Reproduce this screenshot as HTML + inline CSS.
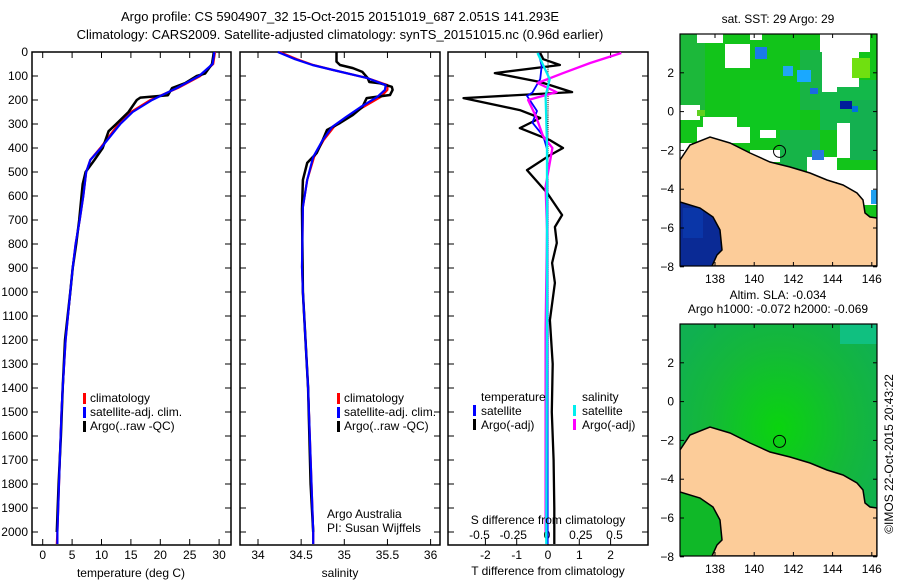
<!DOCTYPE html>
<html><head><meta charset="utf-8"><style>
body{margin:0;background:#fff;}
svg{display:block;font-family:"Liberation Sans",sans-serif;font-size:12px;}
</style></head><body>
<svg id="c" width="900" height="580" xmlns="http://www.w3.org/2000/svg">
<text x="340" y="21" text-anchor="middle" font-size="13">Argo profile: CS 5904907_32 15-Oct-2015 20151019_687 2.051S 141.293E</text>
<text x="340" y="39" text-anchor="middle" font-size="13">Climatology: CARS2009. Satellite-adjusted climatology: synTS_20151015.nc (0.96d earlier)</text>
<g id="g"></g>
</svg>
<script>
// ---- data ----
const depthTicks=[0,100,200,300,400,500,600,700,800,900,1000,1100,1200,1300,1400,1500,1600,1700,1800,1900,2000];
const tempTicks=[0,5,10,15,20,25,30];
const salTicks=[34,34.5,35,35.5,36];
const tdiffTicks=[-2,-1,0,1,2];
const sdiffTicks=[-0.5,-0.25,0,0.25,0.5];
const climDepth=[0,50,100,150,200,250,300,400,450,500,600,700,800,900,1000,1200,1400,1500,1700,2000,2050];
const climTemp=[29.3,29.0,26.8,23.0,18.3,15.0,12.9,9.8,8.1,7.4,6.9,6.3,5.6,5.1,4.7,3.9,3.4,3.2,2.9,2.5,2.4];
const satTemp=[29.2,28.9,26.6,22.8,18.6,15.3,13.2,9.9,8.1,7.4,6.9,6.3,5.6,5.1,4.7,3.9,3.4,3.2,2.9,2.5,2.5];
const salDepth=[0,30,54,75,108,138,158,188,229,271,312,367,437,533,646,896,1000,1400,2000,2050];
const climSal=[34.25,34.45,34.64,34.87,35.26,35.50,35.50,35.42,35.22,35.04,34.88,34.76,34.65,34.57,34.52,34.51,34.52,34.58,34.64,34.64];
const satSal=[34.23,34.43,34.63,34.87,35.26,35.48,35.47,35.38,35.19,35.02,34.86,34.75,34.64,34.57,34.52,34.51,34.52,34.58,34.64,34.64];
const argoDepth=[2,50,90,100,130,150,180,190,200,250,300,330,400,450,500,550,600,700,800,900,1000,1200,1400,1600,1800,2000];
const argoTemp=[29.1,28.8,27.6,26.2,24.2,22.0,21.3,16.6,16.0,14.6,12.5,11.2,10.2,8.8,7.3,6.8,6.6,6.2,5.7,5.1,4.7,3.8,3.4,3.1,2.7,2.4];
const argoSalDepth=[2,40,54,67,83,108,125,130,145,158,179,192,229,262,296,325,367,421,462,533,654,1000,1400,1800,2000];
const argoSal=[34.91,34.91,34.95,35.10,35.21,35.27,35.29,35.41,35.55,35.56,35.53,35.26,35.21,35.10,34.95,34.80,34.75,34.68,34.57,34.52,34.51,34.52,34.58,34.61,34.64];
const tdDepth=[4,30,54,88,125,167,192,242,275,317,367,400,430,492,587,679,729,796,879,962,1117,1300,1500,1700,1900,2050];
const argoTdiff=[-0.25,-0.15,0.38,-1.7,-0.25,0.77,-2.7,-0.9,-0.25,-0.9,0.06,0.48,0.06,-0.67,-0.03,0.45,0.22,0.28,0.13,0.22,0.06,0.15,0.12,0.18,0.2,0.2];
const sdDepth=[4,58,113,169,183,246,294,350,406,600,2050];
const satTdiff=[-0.3,-0.2,-0.25,-0.5,-0.67,-0.35,-0.5,-0.15,-0.03,-0.02,-0.01];
const argoSdDepth=[4,46,88,129,167,200,271,350,400,560,742,1160,1500,2000];
const argoSdiff=[0.55,0.32,0.12,-0.07,0.07,-0.14,-0.08,-0.03,0.04,-0.01,0.0,-0.01,-0.01,-0.01];
const satSdDepth=[4,113,183,390,1000,2050];
const satSdiff=[-0.07,0.02,-0.01,0.0,0.0,-0.005];

// ---- helpers ----
const NS="http://www.w3.org/2000/svg";const G=document.getElementById('g');
function el(t,a,p){const e=document.createElementNS(NS,t);for(const k in a)e.setAttribute(k,a[k]);(p||G).appendChild(e);return e;}
const Y0=52,Y1=545,DMAX=(Y1-Y0)/0.24;
const yD=d=>Y0+d*0.24;
const xT=v=>42.7+v*5.88, xS=v=>258+(v-34)*86.3, xTd=v=>548+v*31.3, xSd=v=>547+v*135;
function line(xs,ds,f,col,w,name){const pts=xs.map((v,i)=>f(v).toFixed(1)+','+yD(ds[i]).toFixed(1)).join(' ');
 const p=el('polyline',{points:pts,fill:'none',stroke:col,'stroke-width':w,'stroke-linejoin':'round'});
 
 }
function panel(x0,x1,name){const r=el('rect',{x:x0,y:Y0,width:x1-x0,height:Y1-Y0,fill:'none',stroke:'#000','stroke-width':1.5});
 
 
 depthTicks.forEach(d=>{el('line',{x1:x0,x2:x0+6,y1:yD(d),y2:yD(d),stroke:'#000'});el('line',{x1:x1,x2:x1-6,y1:yD(d),y2:yD(d),stroke:'#000'});});}
function xticks(ticks,f,labels,ly,name){ticks.forEach((v,i)=>{const x=f(v);el('line',{x1:x,x2:x,y1:Y0,y2:Y0+6,stroke:'#000'});el('line',{x1:x,x2:x,y1:Y1,y2:Y1-6,stroke:'#000'});
 const t=el('text',{x:x,y:ly,'text-anchor':'middle'});t.textContent=labels[i];
 
 });}
function txt(x,y,s,name,anchor){const t=el('text',{x:x,y:y,'text-anchor':anchor||'start'});t.textContent=s;
 
 return t;}
function legbar(x,y,col){el('rect',{x:x,y:y-10,width:3,height:11,fill:col});}

// depth labels
depthTicks.forEach(d=>{const t=txt(28,yD(d)+4,String(d),'depth-tick-label','end');});

// panel 1 temperature
panel(32,231,'temperature-panel');
xticks(tempTicks,xT,tempTicks.map(String),559,'temperature-tick-label');
line(climTemp,climDepth,xT,'#f00',2.2,'temperature-climatology-line');
line(argoTemp,argoDepth,xT,'#000',2.5,'temperature-argo-line');
line(satTemp,climDepth,xT,'#00f',2.2,'temperature-satellite-line');
txt(131,577,'temperature (deg C)','temperature-axis-title','middle');
legbar(83,403,'#f00');txt(90,402,'climatology','legend-climatology');
legbar(83,417,'#00f');txt(90,416,'satellite-adj. clim.','legend-satellite-adj');
legbar(83,431,'#000');txt(90,430,'Argo(..raw -QC)','legend-argo');

// panel 2 salinity
panel(240,440,'salinity-panel');
xticks(salTicks,xS,['34','34.5','35','35.5','36'],559,'salinity-tick-label');
line(climSal,salDepth,xS,'#f00',2.2,'salinity-climatology-line');
line(argoSal,argoSalDepth,xS,'#000',2.5,'salinity-argo-line');
line(satSal,salDepth,xS,'#00f',2.2,'salinity-satellite-line');
txt(340,577,'salinity','salinity-axis-title','middle');
legbar(337,403,'#f00');txt(344,402,'climatology','legend-climatology');
legbar(337,417,'#00f');txt(344,416,'satellite-adj. clim.','legend-satellite-adj');
legbar(337,431,'#000');txt(344,430,'Argo(..raw -QC)','legend-argo');
txt(327,518,'Argo Australia','credit-argo-australia');
txt(327,532,'PI: Susan Wijffels','credit-pi');

// panel 3 differences
panel(448,648,'difference-panel');
xticks(tdiffTicks,xTd,tdiffTicks.map(String),559,'t-diff-tick-label');
sdiffTicks.forEach(v=>txt(xSd(v),539,String(v),'s-diff-tick-label','middle'));
for(let d=0;d<DMAX;d+=8)el('line',{x1:548,x2:548,y1:yD(d),y2:yD(d)+1,stroke:'#000'});
line(argoTdiff,tdDepth,xTd,'#000',2.3,'t-diff-argo-line');
line(satTdiff,sdDepth,xTd,'#00f',1.8,'t-diff-satellite-line');
line(argoSdiff,argoSdDepth,xSd,'#f0f',2.3,'s-diff-argo-line');
line(satSdiff,satSdDepth,xSd,'#0ee',2.3,'s-diff-satellite-line');
txt(481,401,'temperature','legend-temperature-header');
txt(582,401,'salinity','legend-salinity-header');
legbar(473,415,'#00f');txt(481,415,'satellite','legend-t-satellite');
legbar(473,429,'#000');txt(481,429,'Argo(-adj)','legend-t-argo');
legbar(573,415,'#0ee');txt(582,415,'satellite','legend-s-satellite');
legbar(573,429,'#f0f');txt(582,429,'Argo(-adj)','legend-s-argo');
txt(548,524,'S difference from climatology','s-diff-axis-title','middle');
txt(548,575,'T difference from climatology','t-diff-axis-title','middle');

// ---- maps ----
const lonTicks=[138,140,142,144,146];
const latTicks=[2,0,-2,-4,-6,-8];
const MX0=680,MX1=877,MW=197,MH=232;
const mx=l=>715+(l-138)*19.6;
function landPts(oy){const base=[[680,160],[690,145],[710,137],[730,143],[750,153],[770,162],[790,167],[810,173],[827,180],[843,185],[857,193],[863,200],[865,213],[870,217],[877,218],[877,266],[712,266],[717,255],[722,250],[720,230],[713,217],[700,208],[680,202]];
 return base.map(p=>p[0]+','+(p[1]+oy)).join(' ');}
function map(top,oy,title1,title2,kind){
 const cl='clip'+kind;const cp=el('clipPath',{id:cl});el('rect',{x:MX0,y:top,width:MW,height:MH},cp);
 const g=el('g',{'clip-path':'url(#'+cl+')'});
 if(kind==='sst'){
  el('rect',{x:MX0,y:top,width:MW,height:MH,fill:'#12c41a'},g);
  [[680,34,25,80,'#1cb83a'],[740,80,60,60,'#0ec820'],[800,50,40,60,'#18b444'],[820,80,60,50,'#13b84a'],[850,100,27,60,'#14b050'],[780,130,40,40,'#16b448']].forEach(r=>el('rect',{x:r[0],y:r[1],width:r[2],height:r[3],fill:r[4]},g));
  [[697,34,26,9],[725,44,25,24],[750,34,12,6],[820,34,50,18],[822,52,15,40],[837,52,22,35],[680,105,20,15],[703,117,34,10],[697,127,53,16],[760,130,16,8],[837,123,13,35],[807,157,30,25],[837,170,40,35],[750,150,30,12],[680,143,12,20]].forEach(r=>el('rect',{x:r[0],y:r[1],width:r[2],height:r[3],fill:'#fff'},g));
  [[755,47,12,12,'#1a7ae8'],[783,66,10,10,'#22a6f0'],[797,70,14,12,'#1aa8ff'],[810,88,8,6,'#1a6ae0'],[840,101,12,8,'#001e9a'],[852,106,6,6,'#0070e0'],[812,150,12,10,'#2a78e0'],[871,190,6,14,'#20a0f0'],[852,58,18,20,'#70e010'],[697,110,8,6,'#60d020']].forEach(r=>el('rect',{x:r[0],y:r[1],width:r[2],height:r[3],fill:r[4]},g));
  el('rect',{x:680,y:200,width:45,height:66,fill:'#0a2a95'},g);
  el('rect',{x:683,y:208,width:20,height:30,fill:'#0a36a8'},g);
 } else {
  const gr=el('radialGradient',{id:'slag',cx:'0.5',cy:'0.45',r:'0.6'});
  el('stop',{offset:'0','stop-color':'#0ad40e'},gr);el('stop',{offset:'0.6','stop-color':'#14b83a'},gr);el('stop',{offset:'1','stop-color':'#10b050'},gr);
  el('rect',{x:MX0,y:top,width:MW,height:MH,fill:'url(#slag)'},g);
  el('rect',{x:840,y:top,width:37,height:20,fill:'#10c080'},g);
  el('rect',{x:680,y:490,width:45,height:66,fill:'#10b828'},g);
 }
 const lp=el('polygon',{points:landPts(oy),fill:'#fccc99',stroke:'#000','stroke-width':1.5},g);
 
 
 const c=el('circle',{cx:mx(141.293),cy:top+(4-(-2.051))*19.4,r:6,fill:'none',stroke:'#000'},g);
 
 
 el('rect',{x:MX0,y:top,width:MW,height:MH,fill:'none',stroke:'#000','stroke-width':1.2});
 lonTicks.forEach(l=>{const x=mx(l);el('line',{x1:x,x2:x,y1:top,y2:top+4,stroke:'#000'});el('line',{x1:x,x2:x,y1:top+MH,y2:top+MH-4,stroke:'#000'});txt(x,top+MH+17,String(l),'longitude-tick-label','middle');});
 latTicks.forEach(l=>{const y=top+(4-l)*19.4;el('line',{x1:MX0,x2:MX0+4,y1:y,y2:y,stroke:'#000'});el('line',{x1:MX1,x2:MX1-4,y1:y,y2:y,stroke:'#000'});txt(674,y+4,String(l).replace('-','\u2212'),'latitude-tick-label','end');});
 txt(778,top-11-(title2?14:0),title1,'map-title-'+kind,'middle');
 if(title2)txt(778,top-11,title2,'map-subtitle-'+kind,'middle');
}
map(34,0,'sat. SST: 29 Argo: 29',null,'sst');
map(324,290,'Altim. SLA: -0.034','Argo h1000: -0.072 h2000: -0.069','sla');
const cr=txt(893,454,'\u00a9IMOS 22-Oct-2015 20:43:22','copyright-timestamp','middle');
cr.setAttribute('transform','rotate(-90 893 454)');
</script>
</body></html>
